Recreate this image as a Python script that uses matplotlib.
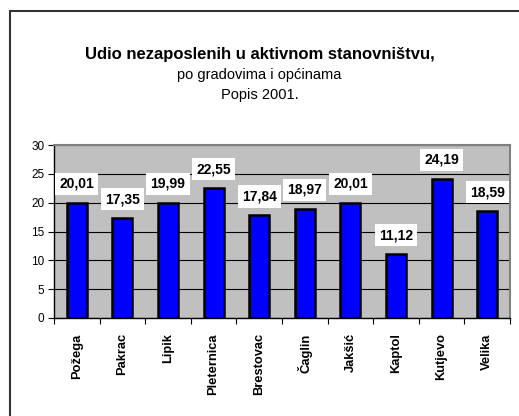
import matplotlib
matplotlib.use("Agg")
import matplotlib.pyplot as plt
from matplotlib.patches import Rectangle

categories = ["Požega", "Pakrac", "Lipik", "Pleternica", "Brestovac",
              "Čaglin", "Jakšić", "Kaptol", "Kutjevo", "Velika"]
values = [20.01, 17.35, 19.99, 22.55, 17.84, 18.97, 20.01, 11.12, 24.19, 18.59]
labels = ["20,01", "17,35", "19,99", "22,55", "17,84", "18,97", "20,01", "11,12", "24,19", "18,59"]
yticks = [0, 5, 10, 15, 20, 25, 30]

plt.rcParams['font.family'] = ['Liberation Sans', 'DejaVu Sans']

W, H = 519, 416
fig = plt.figure(figsize=(W / 100, H / 100), dpi=100)

# outer frame
fig.patches.append(Rectangle((10 / W, -0.05), 1.2, (H - 11) / H + 0.05,
                             transform=fig.transFigure, fill=False,
                             edgecolor='#333333', linewidth=1.5))

fig.text(0.5, 1 - 55 / H, "Udio nezaposlenih u aktivnom stanovništvu,",
         ha='center', va='center', fontsize=12, fontweight='bold')
fig.text(0.5, 1 - 75 / H, "po gradovima i općinama",
         ha='center', va='center', fontsize=10.5)
fig.text(0.5, 1 - 95 / H, "Popis 2001.",
         ha='center', va='center', fontsize=10.5)

left, right, top, bottom = 54, 510, 145, 318
ax = fig.add_axes([left / W, 1 - bottom / H, (right - left) / W, (bottom - top) / H])
ax.set_facecolor('#C0C0C0')

x = list(range(len(categories)))
ax.bar(x, values, width=0.44, color='#0000FF', edgecolor='black', linewidth=1.8, zorder=3)

ax.set_xlim(-0.5, len(categories) - 0.5)
ax.set_ylim(0, 30)
ax.set_yticks(yticks)
ax.set_yticklabels([str(t) for t in yticks], fontsize=8.5)
ax.yaxis.grid(True, color='black', linewidth=0.8, zorder=1)
ax.set_axisbelow(True)

ax.set_xticks([i - 0.5 for i in range(len(categories) + 1)])
ax.set_xticklabels([])
ax.set_xticks(x, minor=True)
ax.set_xticklabels(categories, minor=True, rotation=90, fontsize=9.3,
                   fontweight='bold', va='top')
ax.tick_params(axis='x', which='minor', length=0, pad=11)
ax.tick_params(axis='x', which='major', length=4, direction='out', color='black')
ax.tick_params(axis='y', length=4, direction='out', pad=3)

for s in ['top', 'right']:
    ax.spines[s].set_color('#808080')
    ax.spines[s].set_linewidth(1.5)
for s in ['left', 'bottom']:
    ax.spines[s].set_color('black')
    ax.spines[s].set_linewidth(1.0)

for xi, v, lab in zip(x, values, labels):
    ax.annotate(lab, (xi, v), xytext=(0, 13.5), textcoords='offset points',
                ha='center', va='center', fontsize=10, fontweight='bold',
                bbox=dict(boxstyle='square,pad=0.3', facecolor='white', edgecolor='none'),
                zorder=5)

fig.savefig("out.png", dpi=100)
